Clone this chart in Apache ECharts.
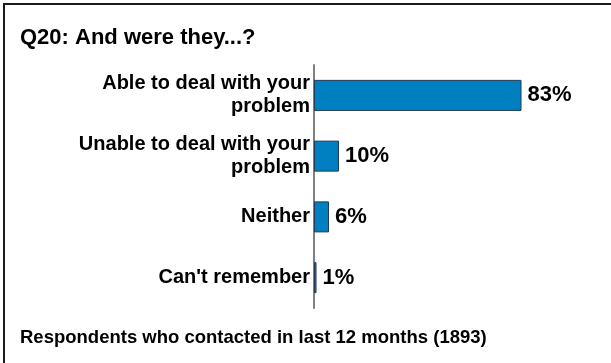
<!DOCTYPE html>
<html>
<head>
<meta charset="utf-8">
<script src="https://cdn.jsdelivr.net/npm/echarts@6/dist/echarts.min.js"></script>
<style>
  html, body { margin: 0; padding: 0; background: #fff; }
  #chart { width: 611px; height: 363px; }
</style>
</head>
<body>
<div id="chart"></div>
<script>
// Answer categories (top to bottom) and their shares in percent
var categories = [
  'Able to deal with your\nproblem',
  'Unable to deal with your\nproblem',
  'Neither',
  "Can't remember"
];
var shares = [83, 10, 6, 1];

var titleText = 'Q20: And were they...?';
var baseText = 'Respondents who contacted in last 12 months (1893)';

var chart = echarts.init(document.getElementById('chart'), null, { renderer: 'canvas' });

var font = 'Liberation Sans, Arial, sans-serif';

chart.setOption({
  backgroundColor: '#ffffff',
  animation: false,
  title: [
    {
      text: titleText,
      left: 15,
      top: 22,
      textStyle: { fontFamily: font, fontWeight: 'bold', fontSize: 22, color: '#000' }
    },
    {
      text: baseText,
      left: 15,
      top: 323,
      textStyle: { fontFamily: font, fontWeight: 'bold', fontSize: 18.5, color: '#000' }
    }
  ],
  graphic: [
    { type: 'line', shape: { x1: 3, y1: 4, x2: 611, y2: 4 }, style: { stroke: '#1a1a1a', lineWidth: 2 } },
    { type: 'line', shape: { x1: 4, y1: 3, x2: 4, y2: 363 }, style: { stroke: '#1a1a1a', lineWidth: 2 } }
  ],
  grid: { left: 314, top: 65, right: 47, bottom: 55, containLabel: false },
  xAxis: {
    type: 'value',
    min: 0,
    max: 100,
    show: false
  },
  yAxis: {
    type: 'category',
    inverse: true,
    data: categories,
    axisLine: { show: true, lineStyle: { color: '#808080', width: 2 } },
    axisTick: { show: false },
    axisLabel: {
      margin: 4,
      fontFamily: font,
      fontWeight: 'bold',
      fontSize: 20,
      lineHeight: 23,
      color: '#000',
      align: 'right'
    }
  },
  series: [{
    type: 'bar',
    data: shares,
    barWidth: 31,
    itemStyle: { color: '#0080C0', borderColor: '#1F3B57', borderWidth: 1 },
    label: {
      show: true,
      position: 'right',
      distance: 6,
      formatter: '{c}%',
      fontFamily: font,
      fontWeight: 'bold',
      fontSize: 22,
      color: '#000'
    }
  }]
});
</script>
</body>
</html>
